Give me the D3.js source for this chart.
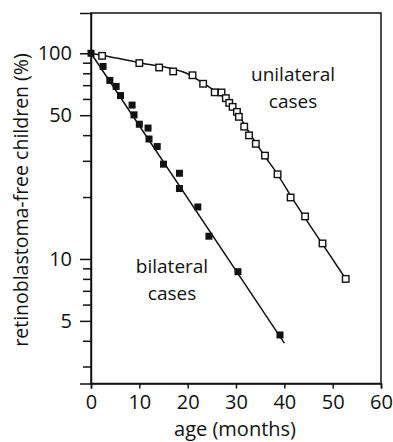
<!DOCTYPE html>
<html>
<head>
<meta charset="utf-8">
<script src="https://cdn.jsdelivr.net/npm/d3@7"></script>
<style>
  html, body { margin: 0; padding: 0; background: #fff; }
  svg { display: block; }
  text { font-family: "Open Sans", sans-serif; fill: #111; }
</style>
</head>
<body>
<svg id="chart" width="393" height="442"></svg>
<script>
// ---- data ----
const bilateralAge = [0, 2.5, 3.9, 5.2, 6.1, 8.5, 8.9, 10.0, 11.8, 12.0, 13.7, 15.0, 18.3, 18.3, 22.1, 24.4, 30.4, 39.1];
const bilateralPct = [100, 86.3, 73.8, 69, 62.3, 56, 50.2, 45.2, 43.3, 38.3, 35.2, 28.9, 26.1, 22.0, 17.9, 12.9, 8.67, 4.27];

const unilateralAge = [2.3, 10, 14.1, 17.0, 21.0, 23.2, 25.6, 27.0, 27.9, 28.6, 29.3, 30.2, 30.6, 31.7, 32.7, 34.1, 36.0, 38.6, 41.3, 44.3, 47.9, 52.7];
const unilateralPct = [97.2, 89.6, 85.3, 81.6, 78.2, 71.1, 64.6, 64.5, 60.5, 57.4, 54.9, 51.9, 49.1, 44.0, 39.9, 36.3, 31.8, 25.8, 19.9, 16.1, 11.9, 8.0];

const bilateralFitAge = [0, 40];
const bilateralFitPct = [100, 3.9];
const unilateralFitAge = [0, 10, 20, 23, 25.5, 28, 30, 32, 34, 36, 38.6, 41.3, 44.3, 47.9, 52.7];
const unilateralFitPct = [100, 90, 79.5, 72, 66, 59.5, 53, 44, 37, 31.5, 25.8, 20.3, 15.8, 11.8, 8.0];

const xTicks = [0, 10, 20, 30, 40, 50, 60];
const yMajorTicks = [100, 50, 10, 5];
const yMinorTicks = [90, 80, 70, 60, 40, 30, 20, 9, 8, 7, 6, 4, 3];

const xTitle = "age (months)";
const yTitle = "retinoblastoma-free children (%)";
const unilateralLabel = ["unilateral", "cases"];
const bilateralLabel = ["bilateral", "cases"];

// ---- layout ----
const svg = d3.select("#chart");
const mLeft = 91, mRight = 381, mTop = 13, mBottom = 383.5;

const x = d3.scaleLinear().domain([0, 60]).range([mLeft, mRight]);
const y = d3.scaleLog().domain([2.48, 157]).range([mBottom, mTop]);

// frame
svg.append("rect")
  .attr("x", mLeft).attr("y", mTop)
  .attr("width", mRight - mLeft).attr("height", mBottom - mTop)
  .attr("fill", "none").attr("stroke", "#111").attr("stroke-width", 1.5);

// x axis
const xAxis = d3.axisBottom(x).tickValues(xTicks).tickSize(5).tickPadding(6).tickFormat(d3.format("d"));
const gx = svg.append("g").attr("transform", `translate(0,${mBottom})`).call(xAxis);
gx.select(".domain").attr("stroke", "#111").attr("stroke-width", 1.5);
gx.selectAll(".tick line").attr("stroke", "#111").attr("stroke-width", 1.5);
gx.selectAll(".tick text").attr("font-size", 20).attr("font-family", "Open Sans, sans-serif").attr("fill", "#111");

// y axis major
const yAxis = d3.axisLeft(y).tickValues(yMajorTicks).tickSize(11).tickPadding(8).tickFormat(d3.format("d"));
const gy = svg.append("g").attr("transform", `translate(${mLeft},0)`).call(yAxis);
gy.select(".domain").attr("stroke", "#111").attr("stroke-width", 1.5);
gy.selectAll(".tick line").attr("stroke", "#111").attr("stroke-width", 1.5);
gy.selectAll(".tick text").attr("font-size", 20).attr("font-family", "Open Sans, sans-serif").attr("fill", "#111");

// y axis minor
const yMinor = d3.axisLeft(y).tickValues(yMinorTicks).tickSize(8).tickFormat("");
const gym = svg.append("g").attr("transform", `translate(${mLeft},0)`).call(yMinor);
gym.select(".domain").remove();
gym.selectAll(".tick line").attr("stroke", "#111").attr("stroke-width", 1.5);

// titles
svg.append("text")
  .attr("x", 235).attr("y", 436)
  .attr("text-anchor", "middle").attr("font-size", 20)
  .text(xTitle);
svg.append("text")
  .attr("transform", `translate(28,200) rotate(-90)`)
  .attr("text-anchor", "middle").attr("font-size", 19.5)
  .text(yTitle);

// lines
const line = d3.line().x(d => x(d[0])).y(d => y(d[1]));
svg.append("path")
  .datum(bilateralFitAge.map((a, i) => [a, bilateralFitPct[i]]))
  .attr("d", line).attr("fill", "none").attr("stroke", "#111").attr("stroke-width", 1.5);
svg.append("path")
  .datum(unilateralFitAge.map((a, i) => [a, unilateralFitPct[i]]))
  .attr("d", line.curve(d3.curveMonotoneX)).attr("fill", "none").attr("stroke", "#111").attr("stroke-width", 1.5);

// markers
const s = 6.5;
svg.append("g").selectAll("rect")
  .data(unilateralAge.map((a, i) => [a, unilateralPct[i]]))
  .join("rect")
  .attr("x", d => x(d[0]) - s / 2).attr("y", d => y(d[1]) - s / 2)
  .attr("width", s).attr("height", s)
  .attr("fill", "#fff").attr("stroke", "#111").attr("stroke-width", 1.4);
svg.append("g").selectAll("rect")
  .data(bilateralAge.map((a, i) => [a, bilateralPct[i]]))
  .join("rect")
  .attr("x", d => x(d[0]) - 3.5).attr("y", d => y(d[1]) - 3.5)
  .attr("width", 7).attr("height", 7)
  .attr("fill", "#111");

// annotations (two lines each)
function label(lines, cx, baseline) {
  lines.forEach((l, i) => {
    svg.append("text").attr("text-anchor", "middle").attr("font-size", 19)
      .attr("x", cx).attr("y", baseline + i * 26.5).text(l);
  });
}
label(unilateralLabel, 293, 81);
label(bilateralLabel, 172, 273);
</script>
</body>
</html>
